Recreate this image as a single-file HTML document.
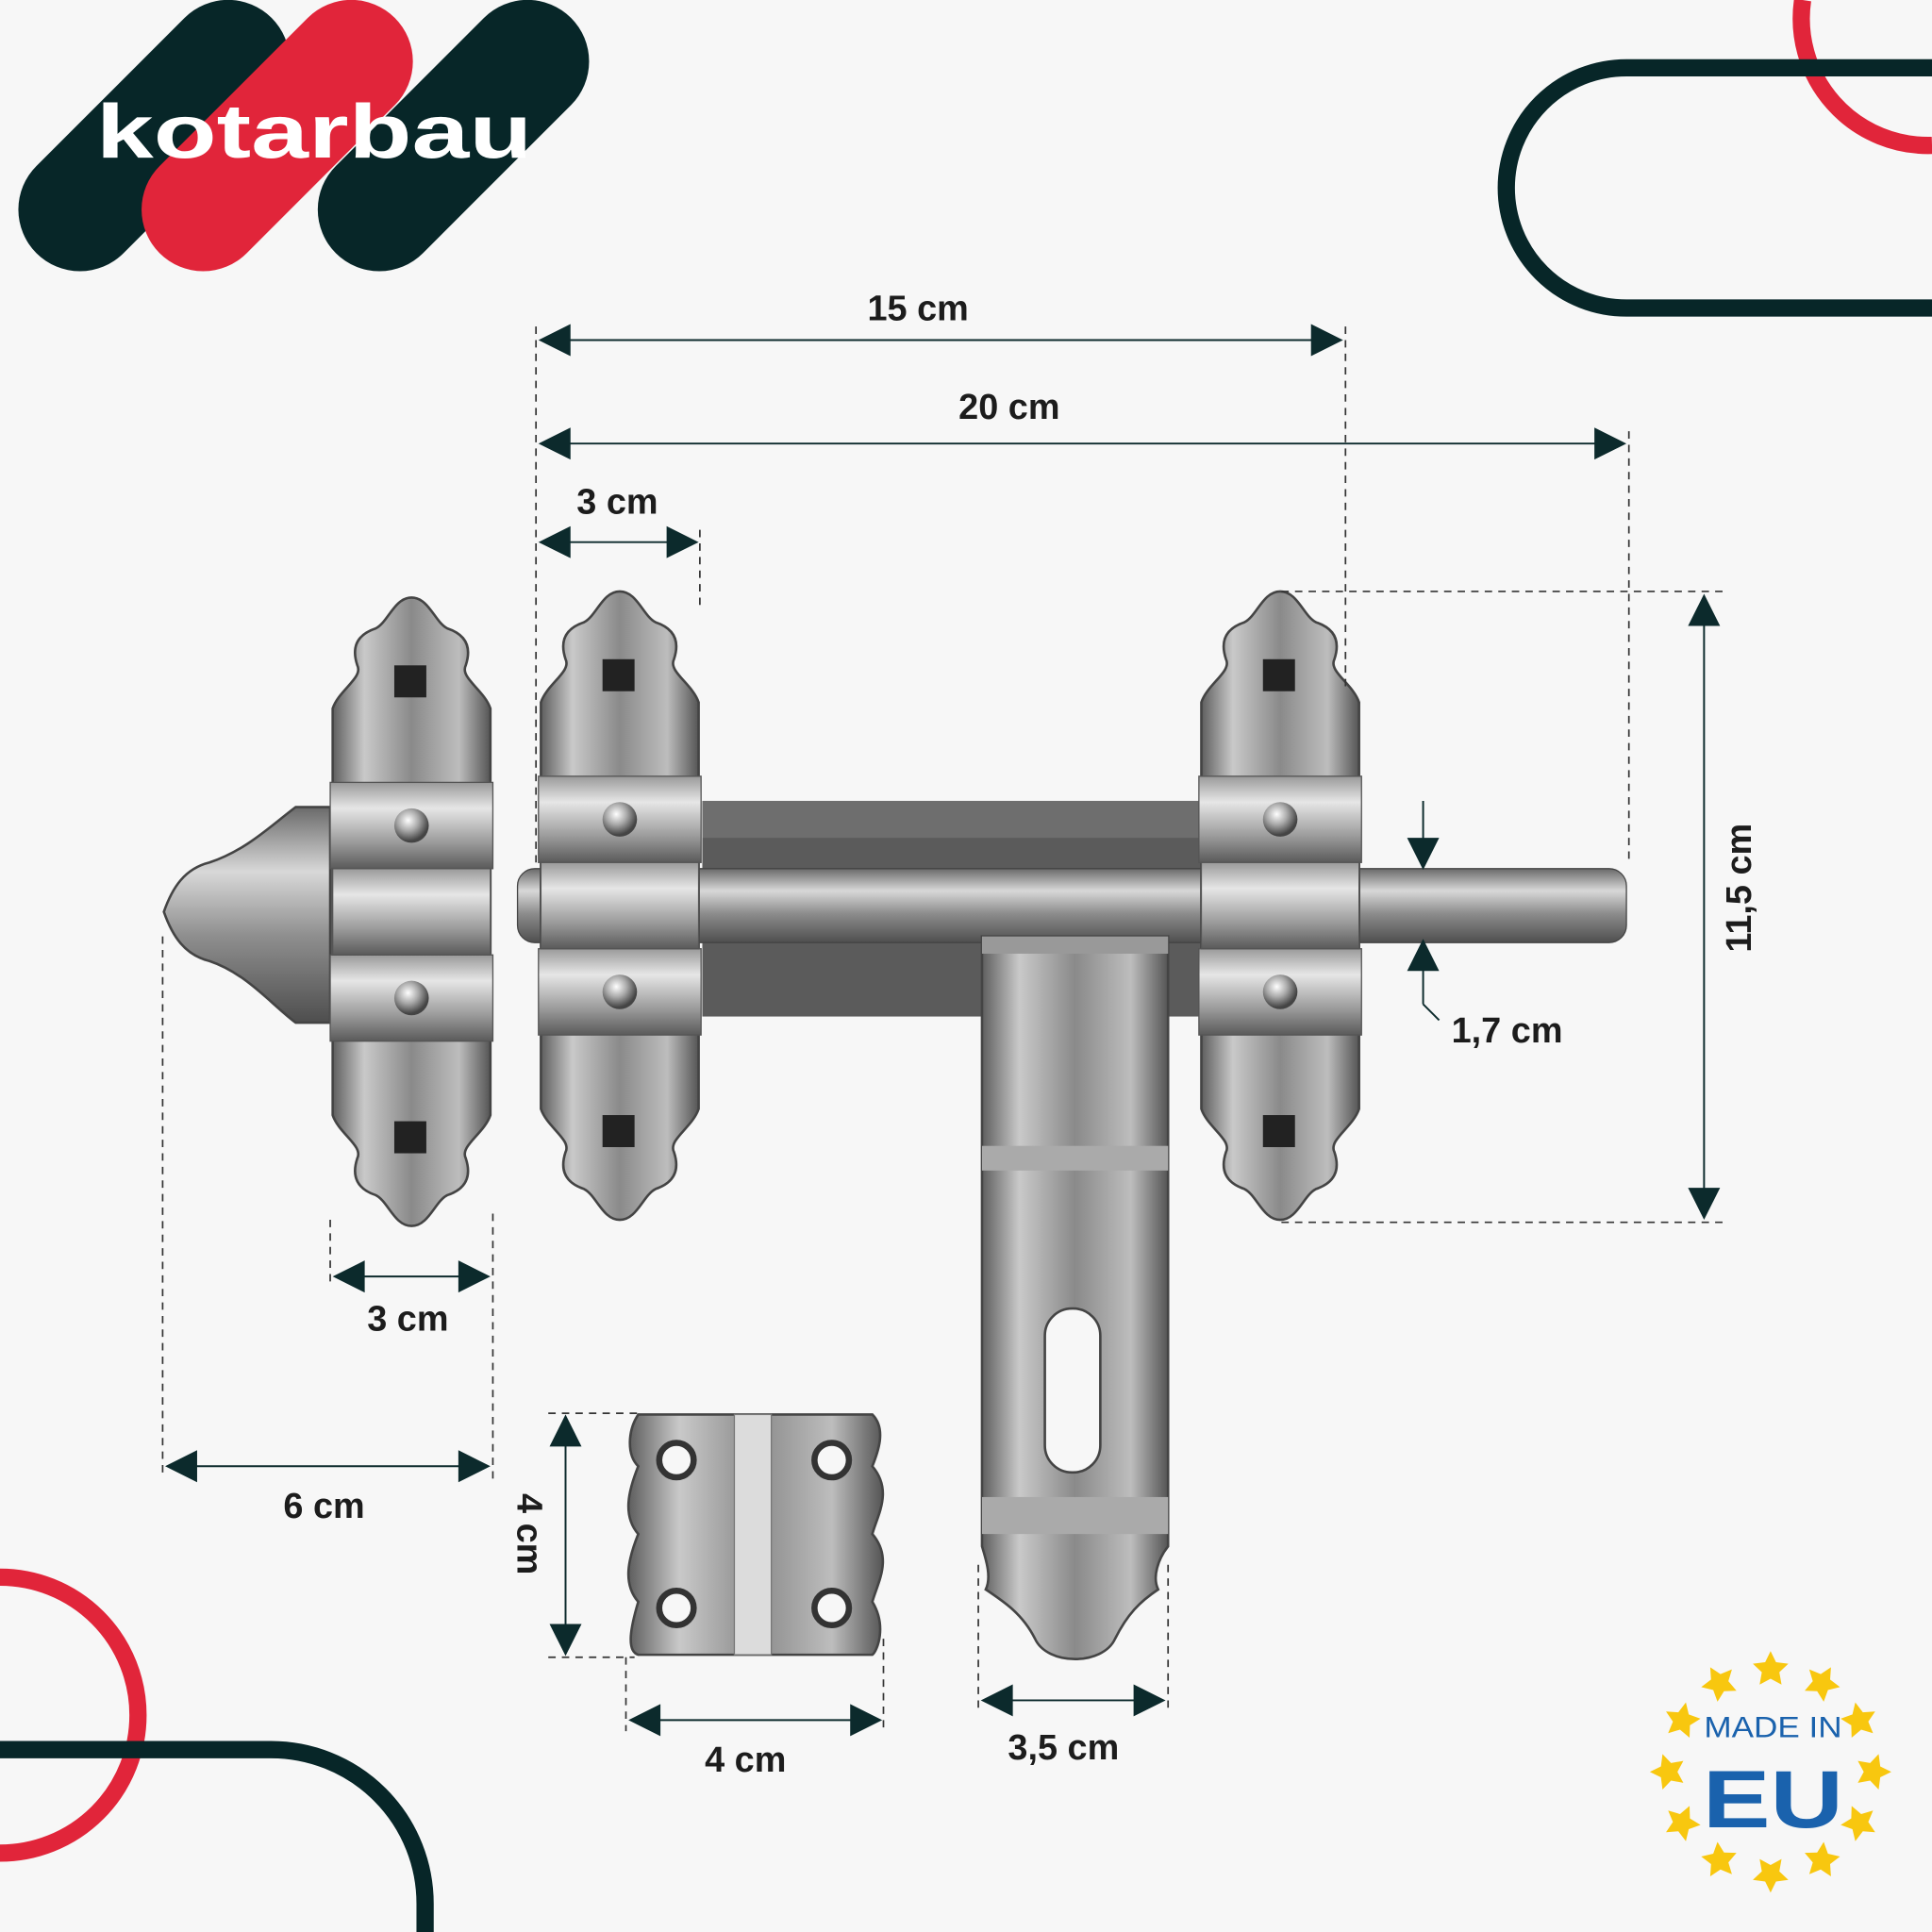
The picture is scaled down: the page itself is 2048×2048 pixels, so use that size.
<!DOCTYPE html>
<html><head><meta charset="utf-8"><style>
html,body{margin:0;padding:0;background:#f7f7f7;overflow:hidden;width:2048px;height:2048px;}
svg{display:block;overflow:hidden;}
text{font-family:"Liberation Sans",sans-serif;font-weight:bold;fill:#1c1c1c;}
</style></head><body>
<svg width="2048" height="2048" viewBox="0 0 1568 1568" xmlns="http://www.w3.org/2000/svg">
<defs>
<linearGradient id="met" x1="0" y1="0" x2="1" y2="0">
<stop offset="0" stop-color="#5e5e5e"/><stop offset="0.2" stop-color="#c9c9c9"/><stop offset="0.5" stop-color="#8a8a8a"/><stop offset="0.8" stop-color="#bdbdbd"/><stop offset="1" stop-color="#555"/>
</linearGradient>
<linearGradient id="metv" x1="0" y1="0" x2="0" y2="1">
<stop offset="0" stop-color="#6a6a6a"/><stop offset="0.3" stop-color="#d8d8d8"/><stop offset="0.6" stop-color="#8e8e8e"/><stop offset="1" stop-color="#4e4e4e"/>
</linearGradient>
<linearGradient id="band" x1="0" y1="0" x2="0" y2="1">
<stop offset="0" stop-color="#9a9a9a"/><stop offset="0.3" stop-color="#e6e6e6"/><stop offset="0.7" stop-color="#9a9a9a"/><stop offset="1" stop-color="#5a5a5a"/>
</linearGradient>
<radialGradient id="riv" cx="0.4" cy="0.35" r="0.6"><stop offset="0" stop-color="#fff"/><stop offset="0.5" stop-color="#aaa"/><stop offset="1" stop-color="#444"/></radialGradient>
<g id="plate">
<path d="M66,0 C80,0 85,20 95,25 C110,30 115,40 110,55 C105,65 125,75 130,90 L130,420 C125,435 105,445 110,455 C115,470 110,480 95,485 C85,490 80,510 66,510 C52,510 47,490 37,485 C22,480 17,470 22,455 C27,445 7,435 2,420 L2,90 C7,75 27,65 22,55 C17,40 22,30 37,25 C47,20 52,0 66,0Z" fill="url(#met)" stroke="#444" stroke-width="2"/>
<rect x="52" y="55" width="26" height="26" fill="#222"/>
<rect x="52" y="425" width="26" height="26" fill="#222"/>
<rect x="0" y="150" width="132" height="70" fill="url(#band)" stroke="#555"/>
<rect x="0" y="290" width="132" height="70" fill="url(#band)" stroke="#555"/>
<rect x="2" y="220" width="128" height="70" fill="url(#band)" stroke="#555"/>
<circle cx="66" cy="185" r="14" fill="url(#riv)"/>
<circle cx="66" cy="325" r="14" fill="url(#riv)"/>
</g>
<path id="ar" d="M0,0 L26,-13 L26,13Z" fill="#0c2a2c"/>
<path id="st" d="M1437,1340 l4.4,9 10,1.3 -7.3,6.9 1.8,10 -8.9,-4.8 -8.9,4.8 1.8,-10 -7.3,-6.9 10,-1.3Z" fill="#f8c70f"/>
</defs>
<rect width="1568" height="1568" fill="#f7f7f7"/>

<!-- logo -->
<g>
<rect x="-10" y="60" width="270" height="100" rx="50" transform="rotate(-45 125 110)" fill="#072628"/>
<rect x="90" y="60" width="270" height="100" rx="50" transform="rotate(-45 225 110)" fill="#e1253a"/>
<rect x="233" y="60" width="270" height="100" rx="50" transform="rotate(-45 368 110)" fill="#072628"/>
<text x="78" y="128" font-size="62" style="fill:#fff" textLength="354" lengthAdjust="spacingAndGlyphs">kotarbau</text>
</g>

<!-- decorative -->
<g fill="none" stroke-width="14">
<path d="M1463,0 A103,103 0 0 0 1568,118" stroke="#e1253a"/>
<path d="M1568,55 L1320,55 A97.5,97.5 0 0 0 1320,250 L1568,250" stroke="#072628"/>
<path d="M0,1280 A112,112 0 0 1 0,1504" stroke="#e1253a"/>
<path d="M0,1420 L220,1420 A125,125 0 0 1 345,1545 L345,1568" stroke="#072628"/>
</g>

<!-- metal parts -->
<path d="M268,655 L240,655 C220,670 200,690 170,700 C150,705 140,720 133,740 C140,760 150,775 170,780 C200,790 220,815 240,830 L268,830Z" fill="url(#metv)" stroke="#444" stroke-width="2"/>
<rect x="570" y="650" width="405" height="175" fill="#5b5b5b"/>
<rect x="570" y="650" width="405" height="30" fill="#6e6e6e"/>
<rect x="420" y="705" width="900" height="60" rx="14" fill="url(#metv)" stroke="#444"/>
<use href="#plate" x="268" y="485"/>
<use href="#plate" x="437" y="480"/>
<use href="#plate" x="973" y="480"/>
<path d="M797,760 L948,760 L948,1255 C940,1265 935,1280 940,1290 C925,1300 915,1310 905,1330 C895,1352 850,1352 840,1330 C830,1310 815,1300 800,1290 C805,1280 800,1265 797,1255Z" fill="url(#met)" stroke="#444" stroke-width="2"/>
<rect x="797" y="760" width="151" height="14" fill="#999"/>
<rect x="797" y="930" width="151" height="20" fill="#aaa"/>
<rect x="797" y="1215" width="151" height="30" fill="#aaa"/>
<rect x="848" y="1062" width="45" height="133" rx="22" fill="#f7f7f7" stroke="#444" stroke-width="2"/>
<!-- staple -->
<path d="M518,1148 L708,1148 C720,1160 712,1180 708,1190 C725,1210 712,1230 708,1245 C725,1265 712,1285 708,1300 C720,1320 712,1340 708,1343 L518,1343 C508,1340 512,1320 518,1300 C505,1285 510,1265 518,1245 C505,1230 510,1210 518,1190 C508,1180 510,1160 518,1148Z" fill="url(#met)" stroke="#444" stroke-width="2"/>
<rect x="596" y="1148" width="30" height="195" fill="#dcdcdc" stroke="#777"/>
<circle cx="549" cy="1185" r="14" fill="#f7f7f7" stroke="#333" stroke-width="5"/>
<circle cx="675" cy="1185" r="14" fill="#f7f7f7" stroke="#333" stroke-width="5"/>
<circle cx="549" cy="1305" r="14" fill="#f7f7f7" stroke="#333" stroke-width="5"/>
<circle cx="675" cy="1305" r="14" fill="#f7f7f7" stroke="#333" stroke-width="5"/>

<!-- dashed guides -->
<g stroke="#333" stroke-width="1.3" stroke-dasharray="6,5" fill="none">
<line x1="435" y1="265" x2="435" y2="700"/>
<line x1="1092" y1="265" x2="1092" y2="560"/>
<line x1="1322" y1="350" x2="1322" y2="700"/>
<line x1="568" y1="430" x2="568" y2="495"/>
<line x1="1040" y1="480" x2="1398" y2="480"/>
<line x1="1040" y1="992" x2="1398" y2="992"/>
<line x1="268" y1="990" x2="268" y2="1045"/>
<line x1="400" y1="985" x2="400" y2="1200"/>
<line x1="132" y1="760" x2="132" y2="1200"/>
<line x1="445" y1="1147" x2="520" y2="1147"/>
<line x1="445" y1="1345" x2="515" y2="1345"/>
<line x1="508" y1="1345" x2="508" y2="1405"/>
<line x1="717" y1="1330" x2="717" y2="1405"/>
<line x1="794" y1="1270" x2="794" y2="1390"/>
<line x1="948" y1="1270" x2="948" y2="1390"/>
</g>

<!-- dimension lines -->
<g stroke="#0c2a2c" stroke-width="1.5">
<line x1="440" y1="276" x2="1088" y2="276"/>
<line x1="440" y1="360" x2="1318" y2="360"/>
<line x1="440" y1="440" x2="565" y2="440"/>
<line x1="1383" y1="485" x2="1383" y2="988"/>
<line x1="272" y1="1036" x2="396" y2="1036"/>
<line x1="136" y1="1190" x2="396" y2="1190"/>
<line x1="459" y1="1150" x2="459" y2="1342"/>
<line x1="512" y1="1396" x2="714" y2="1396"/>
<line x1="798" y1="1380" x2="944" y2="1380"/>
<line x1="1155" y1="650" x2="1155" y2="700"/>
<line x1="1155" y1="770" x2="1155" y2="815"/>
<line x1="1155" y1="815" x2="1168" y2="828"/>
</g>
<g>
<use href="#ar" transform="translate(437,276)"/><use href="#ar" transform="translate(1090,276) rotate(180)"/>
<use href="#ar" transform="translate(437,360)"/><use href="#ar" transform="translate(1320,360) rotate(180)"/>
<use href="#ar" transform="translate(437,440)"/><use href="#ar" transform="translate(567,440) rotate(180)"/>
<use href="#ar" transform="translate(1383,482) rotate(90)"/><use href="#ar" transform="translate(1383,990) rotate(-90)"/>
<use href="#ar" transform="translate(270,1036)"/><use href="#ar" transform="translate(398,1036) rotate(180)"/>
<use href="#ar" transform="translate(134,1190)"/><use href="#ar" transform="translate(398,1190) rotate(180)"/>
<use href="#ar" transform="translate(459,1148) rotate(90)"/><use href="#ar" transform="translate(459,1344) rotate(-90)"/>
<use href="#ar" transform="translate(510,1396)"/><use href="#ar" transform="translate(716,1396) rotate(180)"/>
<use href="#ar" transform="translate(796,1380)"/><use href="#ar" transform="translate(946,1380) rotate(180)"/>
<use href="#ar" transform="translate(1155,706) rotate(-90)"/><use href="#ar" transform="translate(1155,762) rotate(90)"/>
</g>
<g font-size="29">
<text x="704" y="260">15 cm</text>
<text x="778" y="340">20 cm</text>
<text x="468" y="417">3 cm</text>
<text x="298" y="1080">3 cm</text>
<text x="230" y="1232">6 cm</text>
<text x="572" y="1438">4 cm</text>
<text x="818" y="1428">3,5 cm</text>
<text x="1178" y="846">1,7 cm</text>
<text transform="translate(1421,773) rotate(-90)">11,5 cm</text>
<text transform="translate(420,1212) rotate(90)">4 cm</text>
</g>

<!-- EU badge -->
<g>
<use href="#st"/>
<use href="#st" transform="rotate(30 1437 1438)"/><use href="#st" transform="rotate(60 1437 1438)"/>
<use href="#st" transform="rotate(90 1437 1438)"/><use href="#st" transform="rotate(120 1437 1438)"/>
<use href="#st" transform="rotate(150 1437 1438)"/><use href="#st" transform="rotate(180 1437 1438)"/>
<use href="#st" transform="rotate(210 1437 1438)"/><use href="#st" transform="rotate(240 1437 1438)"/>
<use href="#st" transform="rotate(270 1437 1438)"/><use href="#st" transform="rotate(300 1437 1438)"/>
<use href="#st" transform="rotate(330 1437 1438)"/>
</g>
<text x="1383" y="1410" font-size="24" style="fill:#1a62ad;font-weight:normal" textLength="112" lengthAdjust="spacingAndGlyphs">MADE IN</text>
<text x="1382" y="1483" font-size="66" style="fill:#1a62ad" textLength="114" lengthAdjust="spacingAndGlyphs">EU</text>
</svg>
</body></html>
